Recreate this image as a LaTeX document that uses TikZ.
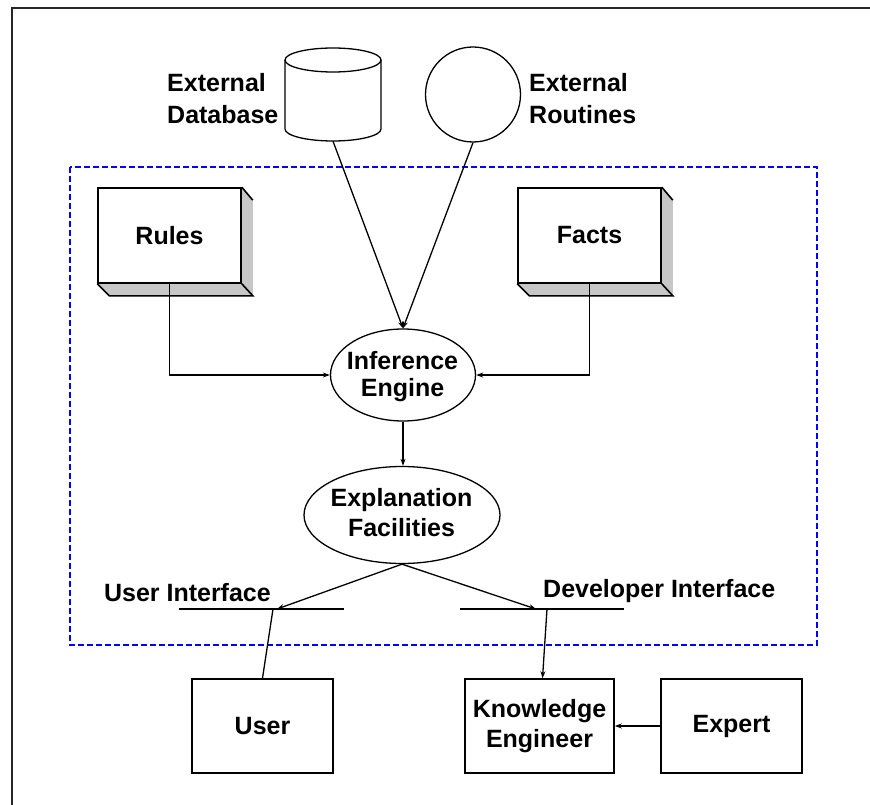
\documentclass[tikz,border=0pt]{standalone}
\usepackage{fontspec}
\setmainfont{Liberation Sans}
\usetikzlibrary{shapes.geometric, arrows.meta, calc, backgrounds}

\begin{document}
\begin{tikzpicture}[x=1pt, y=-1pt,
  lbl/.style={font=\bfseries\fontsize{25}{30}\selectfont, inner sep=0pt, align=center},
  box/.style={lbl, draw, line width=1.6pt, minimum width=141pt, minimum height=94pt},
  slab/.style={lbl, draw, line width=1.6pt, minimum width=143pt, minimum height=95pt},
  oval/.style={ellipse, draw, line width=1.3pt, minimum width=145pt, minimum height=92pt, inner sep=0pt},
  wire/.style={line width=1.3pt},
  arr/.style={wire, -{Stealth[length=7pt,width=5pt]}},
  frame/.style={line width=2pt, black!85},
  boundary/.style={blue, line width=1.3pt, dash pattern=on 6pt off 3pt},
  shade3d/.style={fill=black!22}
]
\useasboundingbox (0,0) rectangle (870,805);

% page frame
\draw[frame] (12,805) -- (12,8) -- (870,8);

% system boundary
\draw[boundary] (70,167) rectangle (817,645);

% external database (cylinder)
\node[inner sep=0pt, minimum width=96pt, minimum height=94pt] (db) at (333,94) {};
\draw[wire] (285,60) -- (285,129) arc[start angle=180, end angle=0, x radius=48, y radius=12] -- (381,60);
\draw[wire] (333,60) ellipse [x radius=48, y radius=12];
\node[lbl, align=left, anchor=west, font=\bfseries\fontsize{25}{32}\selectfont] (dbtxt) at (167,99) {External\\Database};

% external routines
\node[circle, draw, line width=1.3pt, minimum size=95pt, inner sep=0pt] (rt) at (473,94.5) {};
\node[lbl, align=left, anchor=west, font=\bfseries\fontsize{25}{32}\selectfont] (rttxt) at (529,99) {External\\Routines};

% rules and facts slabs
\node[slab] (rules) at (169.5,235.5) {Rules};
\node[slab] (facts) at (589.5,235.5) {Facts};
\begin{scope}[on background layer]
  \foreach \n in {rules,facts} {
    \fill[shade3d] (\n.north east) -- ++(11,13) -- ($(\n.south east)+(11,12)$)
      -- ($(\n.south west)+(12,12)$) -- (\n.south west) -- (\n.south east) -- cycle;
  }
\end{scope}
\foreach \n in {rules,facts} {
  \draw[line width=1.6pt] (\n.north east) -- ++(11,13);
  \draw[line width=1.6pt] (\n.south west) -- ($(\n.south west)+(12,12)$)
    -- ($(\n.south east)+(11,12)$) -- (\n.south east);
}

% inference engine and explanation facilities
\node[oval] (ie) at (403,375) {};
\node[lbl, font=\bfseries\fontsize{25}{27}\selectfont] (ietxt) at (402.5,377) {Inference\\Engine};
\node[oval, minimum width=196pt, minimum height=97pt] (ef) at (402,515) {};
\node[lbl] (eftxt) at (401.5,512.5) {Explanation\\Facilities};

% interfaces
\coordinate (ui) at (277,609);
\coordinate (uio) at (273,609);
\coordinate (di) at (536,609);
\coordinate (dio) at (547,609);
\draw[wire] (179,609) -- (344,609);
\draw[wire] (460,609) -- (624,609);
\node[lbl, anchor=east] (uitxt) at (271,593) {User Interface};
\node[lbl, anchor=west] (ditxt) at (543,591) {Developer Interface};

% people
\node[box] (user) at (262.5,726) {User};
\node[box, minimum width=149pt] (ke) at (539.5,726) {Knowledge\\Engineer};
\node[box] (expert) at (731.5,726) {Expert};

% connectors
\draw[arr] (db.south) -- (ie.north);
\draw[arr] (rt.south) -- (ie.north);
\draw[arr] (rules.south) |- (ie.west);
\draw[arr] (facts.south) |- (ie.east);
\draw[arr] (ie.south) -- (ie.south |- ef.north);
\draw[arr] (ef.south) -- (ui);
\draw[arr] (ef.south) -- (di);
\draw[wire] (uio) -- (user.north);
\draw[arr] (dio) -- ($(ke.north)+(3,0)$);
\draw[arr] (expert.west) -- (ke.east);
\end{tikzpicture}
\end{document}
